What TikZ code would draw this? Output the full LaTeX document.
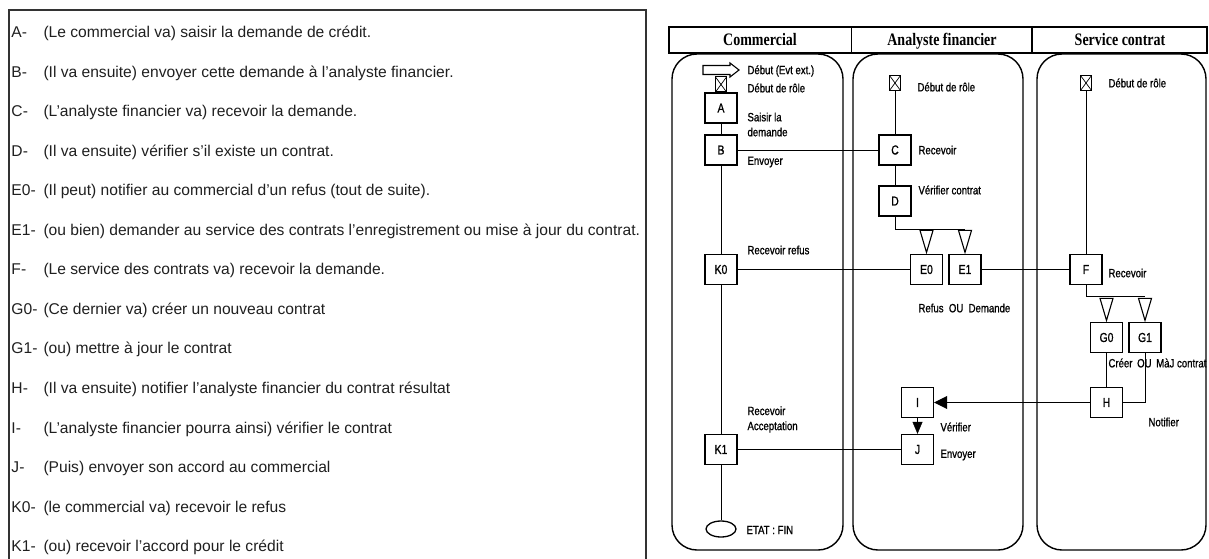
\documentclass[tikz,border=0pt]{standalone}
\usepackage{fontspec}
\setmainfont{Liberation Sans}
\newfontfamily\lanefont[FakeStretch=0.8]{Liberation Serif}
\newfontfamily\notefont[FakeStretch=0.8,FakeBold=1]{Liberation Sans}
\usetikzlibrary{positioning,shapes.geometric,arrows.meta,backgrounds}
\begin{document}
\begin{tikzpicture}[x=1pt,y=-1pt,line width=1pt,
  act/.style={draw,line width=1.3pt,minimum width=32pt,minimum height=30pt,inner sep=0pt,
    font=\notefont\fontsize{13}{13}\selectfont},
  debut/.style={draw,line width=1pt,minimum width=11pt,minimum height=15pt,inner sep=0pt,
    path picture={\draw[line width=.7pt] (path picture bounding box.north west)--(path picture bounding box.south east)
      (path picture bounding box.north east)--(path picture bounding box.south west);}},
  choix/.style={draw,fill=white,line width=1.1pt,isosceles triangle,shape border rotate=270,
    isosceles triangle stretches,minimum width=13pt,minimum height=22pt,inner sep=0pt},
  note/.style={anchor=west,inner sep=0pt,align=left,font=\notefont\fontsize{12}{15}\selectfont},
  lane/.style={draw,line width=1.4pt,rounded corners=25pt},
  actor/.style={anchor=base,font=\lanefont\bfseries\fontsize{17.5}{17.5}\selectfont},
  item/.style={anchor=base west,inner sep=0pt,text=black!88,font=\fontsize{15.6}{16}\selectfont}]
  \useasboundingbox (0,0) rectangle (1209,559);
  % liste des etapes
  \draw[line width=1.2pt,black!80] (9,570) -- (9,10) -- (646,10) -- (646,570);
  \foreach \lab/\txt [count=\i from 0] in {
      A-/{(Le commercial va) saisir la demande de crédit.},
      B-/{(Il va ensuite) envoyer cette demande à l'analyste financier.},
      C-/{(L'analyste financier va) recevoir la demande.},
      D-/{(Il va ensuite) vérifier s'il existe un contrat.},
      E0-/{(Il peut) notifier au commercial d'un refus (tout de suite).},
      E1-/{(ou bien) demander au service des contrats l'enregistrement ou mise à jour du contrat.},
      F-/{(Le service des contrats va) recevoir la demande.},
      G0-/{(Ce dernier va) créer un nouveau contrat},
      G1-/{(ou) mettre à jour le contrat},
      H-/{(Il va ensuite) notifier l'analyste financier du contrat résultat},
      I-/{(L'analyste financier pourra ainsi) vérifier le contrat},
      J-/{(Puis) envoyer son accord au commercial},
      K0-/{(le commercial va) recevoir le refus},
      K1-/{(ou) recevoir l'accord pour le crédit}}{
    \node[item] (lab\i) at (11,{37.5+39.55*\i}) {\lab};
    \node[item] (txt\i) at (43,{37.5+39.55*\i}) {\txt};
  }
  % en-tete des acteurs
  \draw[line width=1.5pt] (669,27) rectangle (1207,53) (851.5,27) -- (851.5,53) (1032,27) -- (1032,53);
  \node[actor] (hCom) at (760,46) {Commercial};
  \node[actor] (hAna) at (942,46) {Analyste financier};
  \node[actor] (hSer) at (1120,46) {Service contrat};
  \draw[lane] (672,54) rectangle (843,550);
  \draw[lane] (853,54) rectangle (1023,550);
  \draw[lane] (1037,54) rectangle (1206,550);
  % commercial
  \coordinate (evt) at (721,70);
  \draw[line width=1.1pt] (evt) ++(-18,-4.5) -- ++(27,0) -- ++(0,-2.5) -- ++(9,7) -- ++(-9,7) -- ++(0,-2.5) -- ++(-27,0) -- cycle;
  \node[debut] (s1) at (721,84.5) {};
  \node[act] (A) at (721,108) {A};
  \node[act] (B) at (721,150) {B};
  \node[act] (K0) at (721,269.5) {K0};
  \node[act] (K1) at (721,449.5) {K1};
  \node[draw,ellipse,line width=1.3pt,minimum width=30pt,minimum height=16pt,inner sep=0pt] (fin) at (721,529) {};
  \node[note] (nEvt) at (747,71) {Début (Evt ext.)};
  \node[note] (nS1) at (747,88) {Début de rôle};
  \node[note] (nA) at (747,124.5) {Saisir la\\demande};
  \node[note] (nB) at (747,162) {Envoyer};
  \node[note] (nK0) at (747,250) {Recevoir refus};
  \node[note] (nK1) at (747,419.5) {Recevoir\\Acceptation};
  \node[note] (nFin) at (746,530) {ETAT : FIN};
  % analyste financier
  \node[debut] (s2) at (895,83) {};
  \node[act] (C) at (895,150) {C};
  \node[act] (D) at (895,201) {D};
  \node[act] (E0) at (926.5,269.5) {E0};
  \node[act] (E1) at (965,269.5) {E1};
  \node[choix,above=0pt of E0] (tE0) {};
  \node[choix,above=0pt of E1] (tE1) {};
  \node[act] (I) at (917.5,402.5) {I};
  \node[act] (J) at (917.5,449.5) {J};
  \node[note] (nS2) at (917,87) {Début de rôle};
  \node[note] (nC) at (918,150) {Recevoir};
  \node[note] (nD) at (918,190) {Vérifier contrat};
  \node[note] (nE) at (918,308) {Refus\ \ OU\ \ Demande};
  \node[note] (nI) at (940,427) {Vérifier};
  \node[note] (nJ) at (940,455) {Envoyer};
  % service contrat
  \node[debut] (s3) at (1086,83) {};
  \node[act] (F) at (1086,269.5) {F};
  \node[act] (G0) at (1106.5,337.5) {G0};
  \node[act] (G1) at (1145,337.5) {G1};
  \node[choix,above=0pt of G0] (tG0) {};
  \node[choix,above=0pt of G1] (tG1) {};
  \node[act] (H) at (1106.5,402.5) {H};
  \node[note] (nS3) at (1108,83) {Début de rôle};
  \node[note] (nF) at (1108,273) {Recevoir};
  \node[note] (nG) at (1108,363) {Créer\hspace{2pt} OU\hspace{2pt} MàJ contrat};
  \node[note] (nH) at (1148,422) {Notifier};
  % liaisons
  \begin{scope}[on background layer]
    \draw (s1) -- (A) (A) -- (B) (B) -- (K0) (K0) -- (K1) (K1) -- (fin);
    \draw (B) -- (C) (K0) -- (E0) (K1) -- (J) (E1) -- (F);
    \draw (s2) -- (C) (C) -- (D);
    \draw (D) |- ([yshift=6pt]tE1.center);
    \draw (s3) -- (F);
    \draw (F) |- ([yshift=7pt]tG1.center);
    \draw (G0) -- (H);
    \draw (G1) |- (H);
    \draw[-{Triangle[length=13pt,width=13pt]}] (H) -- (I);
    \draw[-{Triangle[length=12pt,width=10pt]}] (I) -- (J);
  \end{scope}
\end{tikzpicture}
\end{document}
